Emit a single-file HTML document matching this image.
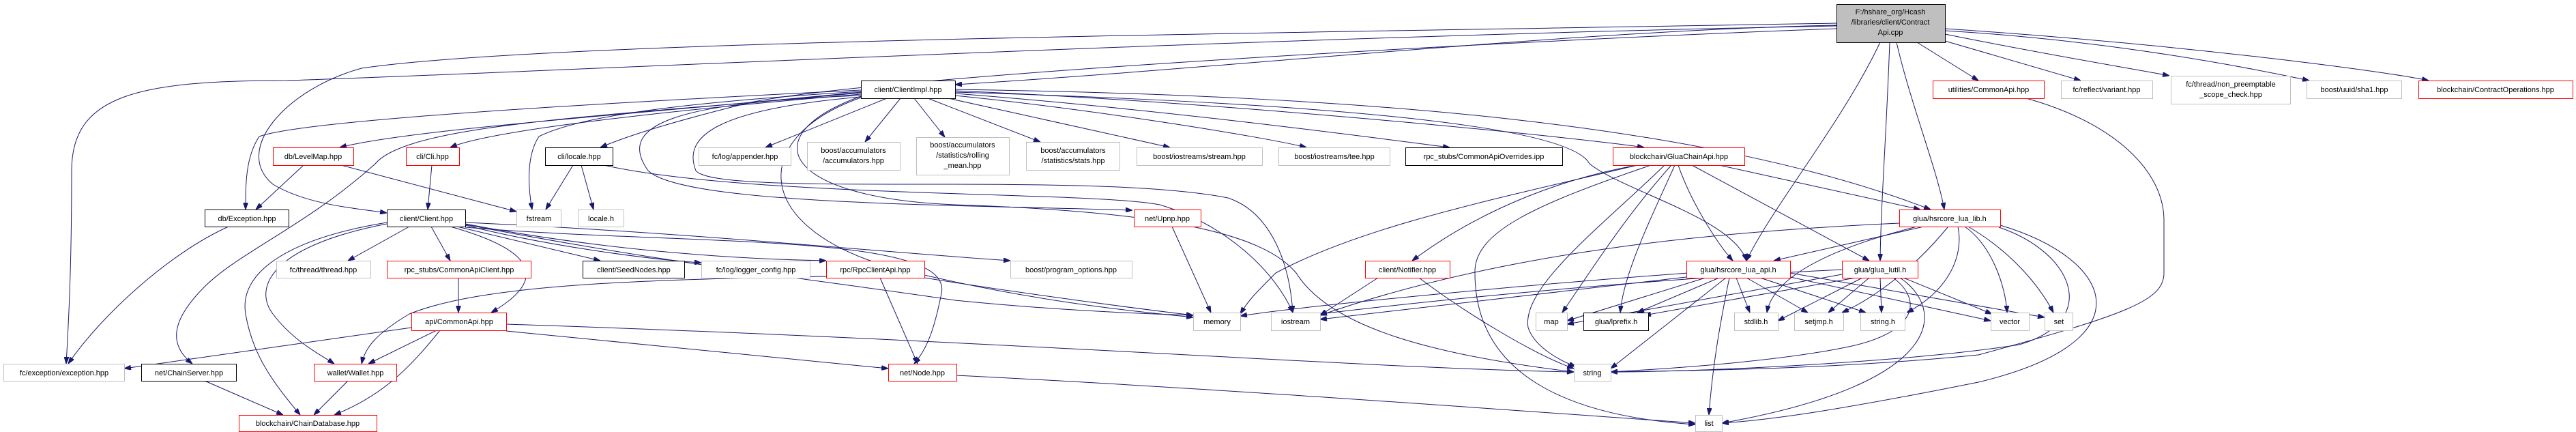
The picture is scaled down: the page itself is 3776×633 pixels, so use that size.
<!DOCTYPE html>
<html><head><meta charset="utf-8"><style>
html,body{margin:0;padding:0;background:#fff;}
svg{display:block;}
text{font-family:"Liberation Sans",Arial,sans-serif;font-size:11px;fill:#000;text-anchor:middle;}
.r{fill:#fff;stroke:#ff0000;stroke-width:1;}
.k{fill:#fff;stroke:#000;stroke-width:1;}
.g{fill:#fff;stroke:#bfbfbf;stroke-width:1;}
path.e{fill:none;stroke:#191970;stroke-width:1;marker-end:url(#a);}
</style></head><body>
<svg width="3776" height="633" viewBox="0 0 3776 633" xmlns="http://www.w3.org/2000/svg">
<defs><marker id="a" markerWidth="10" markerHeight="7" refX="10" refY="3.5" orient="auto" markerUnits="userSpaceOnUse"><path d="M0,0 L10,3.5 L0,7 z" fill="#191970" stroke="#191970"/></marker></defs>
<g>
<path class="e" d="M2692,37 C2300,45 1800,100 1400,124"/>
<path class="e" d="M2692,38 C1800,55 700,110 420,118 C200,118 105,140 105,250 C105,400 100,480 97,533"/>
<path class="e" d="M2692,34 C1800,50 800,60 530,100 C420,130 340,220 400,270 C450,300 520,305 567,312"/>
<path class="e" d="M2692,42 C2200,60 1300,110 1100,150 C1000,175 930,195 880,216"/>
<path class="e" d="M2756,62 C2700,180 2600,300 2560,382"/>
<path class="e" d="M2770,62 C2765,200 2757,300 2756,382"/>
<path class="e" d="M2780,62 C2800,150 2840,250 2850,307"/>
<path class="e" d="M2810,62 L2900,118"/>
<path class="e" d="M2851,60 L3050,118"/>
<path class="e" d="M2851,50 C3000,80 3150,105 3180,111"/>
<path class="e" d="M2851,45 C3100,60 3300,100 3385,118"/>
<path class="e" d="M2851,42 C3200,65 3500,105 3560,118"/>
<path class="e" d="M1262,135 C900,170 600,190 498,216"/>
<path class="e" d="M1262,138 C1000,160 720,190 660,216"/>
<path class="e" d="M1262,132 C900,150 450,175 380,200 C360,230 360,270 360,307"/>
<path class="e" d="M1262,134 C1000,150 850,170 790,200 C770,230 775,280 780,307"/>
<path class="e" d="M1300,144 L1122,216"/>
<path class="e" d="M1320,144 L1268,208"/>
<path class="e" d="M1340,144 L1385,201"/>
<path class="e" d="M1360,144 L1525,208"/>
<path class="e" d="M1390,144 L1715,216"/>
<path class="e" d="M1400,140 C1600,160 1850,200 1915,216"/>
<path class="e" d="M1400,137 C1700,160 2000,200 2125,216"/>
<path class="e" d="M1400,133 C1800,150 2300,200 2410,216"/>
<path class="e" d="M1400,131 C2000,140 2500,180 2830,307"/>
<path class="e" d="M1400,135 C1900,150 2300,180 2330,240 C2380,280 2540,320 2560,382"/>
<path class="e" d="M1262,140 C1000,150 900,180 950,250 C1000,300 1400,300 1660,308"/>
<path class="e" d="M1262,142 C1050,160 1000,200 1020,250 C1050,290 1600,250 1800,290 C1860,310 1890,380 1895,458"/>
<path class="e" d="M1262,143 C1100,200 1100,330 1300,390 C1500,440 1650,455 1749,465"/>
<path class="e" d="M1262,141 C1100,200 1150,290 1400,300 C1700,310 1850,340 1900,400 C1950,480 2100,520 2307,545"/>
<path class="e" d="M1262,136 C900,170 600,180 550,240 C450,330 350,370 300,420 C260,460 240,500 282,533"/>
<path class="e" d="M600,332 L510,382"/>
<path class="e" d="M632,332 L660,382"/>
<path class="e" d="M660,332 C760,360 820,400 720,458"/>
<path class="e" d="M670,332 L880,382"/>
<path class="e" d="M682,330 C800,360 950,380 1028,385"/>
<path class="e" d="M682,328 C900,370 1100,380 1211,382"/>
<path class="e" d="M682,326 C1000,340 1300,370 1481,382"/>
<path class="e" d="M567,328 C400,360 370,420 400,460 C430,500 470,520 490,533"/>
<path class="e" d="M567,326 C420,350 350,400 360,460 C370,520 400,560 440,608"/>
<path class="e" d="M682,333 C1000,360 1400,340 1380,430 C1370,480 1360,510 1340,533"/>
<path class="e" d="M682,329 C1000,390 1200,410 1400,440 C1550,455 1680,460 1749,462"/>
<path class="e" d="M672,407 L672,458"/>
<path class="e" d="M603,480 L182,540"/>
<path class="e" d="M640,484 L540,533"/>
<path class="e" d="M645,484 C600,540 560,580 490,608"/>
<path class="e" d="M742,485 L1302,540"/>
<path class="e" d="M742,475 C1500,500 2000,540 2307,545"/>
<path class="e" d="M510,558 L460,608"/>
<path class="e" d="M300,558 L415,608"/>
<path class="e" d="M335,332 C250,370 150,460 100,533"/>
<path class="e" d="M445,242 L375,307"/>
<path class="e" d="M500,242 L757,310"/>
<path class="e" d="M633,242 L627,307"/>
<path class="e" d="M840,242 L800,307"/>
<path class="e" d="M852,242 L870,307"/>
<path class="e" d="M885,242 C1100,290 1600,280 1700,300 C1800,330 1870,400 1895,458"/>
<path class="e" d="M1718,332 L1775,458"/>
<path class="e" d="M1290,407 L1345,533"/>
<path class="e" d="M1355,407 C1500,430 1650,450 1749,462"/>
<path class="e" d="M1211,405 C900,410 700,420 600,460 C550,490 535,510 530,533"/>
<path class="e" d="M1402,550 C1800,570 2200,600 2485,620"/>
<path class="e" d="M2020,407 L1935,462"/>
<path class="e" d="M2080,407 C2150,460 2250,520 2307,540"/>
<path class="e" d="M2970,144 C3100,180 3170,250 3172,320 L3172,400 C3172,440 3120,460 2900,520 C2700,540 2500,543 2361,545"/>
<path class="e" d="M2400,242 C2300,260 2180,300 2070,382"/>
<path class="e" d="M2400,242 C2200,290 2000,330 1870,400 C1840,430 1830,440 1818,460"/>
<path class="e" d="M2420,242 C2250,300 2160,340 2162,400 C2162,550 2300,610 2485,622"/>
<path class="e" d="M2450,242 C2380,320 2330,400 2290,458"/>
<path class="e" d="M2455,242 C2420,320 2380,400 2375,458"/>
<path class="e" d="M2440,242 C2350,330 2230,420 2240,480 C2250,510 2290,530 2310,537"/>
<path class="e" d="M2460,242 C2480,300 2520,360 2540,382"/>
<path class="e" d="M2480,242 L2740,382"/>
<path class="e" d="M2520,242 L2815,307"/>
<path class="e" d="M2820,332 L2600,382"/>
<path class="e" d="M2810,332 C2700,360 2600,400 2590,458"/>
<path class="e" d="M2855,333 C2800,400 2740,440 2700,458"/>
<path class="e" d="M2870,332 C2880,380 2850,430 2795,458"/>
<path class="e" d="M2880,332 C2920,360 2940,420 2942,458"/>
<path class="e" d="M2885,332 C2950,370 2990,420 3010,458"/>
<path class="e" d="M2930,333 C3040,370 3080,470 2960,505 C2800,530 2500,545 2361,545"/>
<path class="e" d="M2932,330 C3100,380 3150,500 2900,560 C2700,600 2600,615 2524,620"/>
<path class="e" d="M2784,327 C2500,340 2200,370 1935,462"/>
<path class="e" d="M2475,400 C2200,420 1900,450 1818,463"/>
<path class="e" d="M2480,405 L1935,468"/>
<path class="e" d="M2500,407 L2297,470"/>
<path class="e" d="M2520,407 L2400,458"/>
<path class="e" d="M2545,407 L2565,458"/>
<path class="e" d="M2560,407 L2650,458"/>
<path class="e" d="M2580,407 L2735,458"/>
<path class="e" d="M2620,405 L2918,470"/>
<path class="e" d="M2624,400 L2997,465"/>
<path class="e" d="M2530,407 L2361,540"/>
<path class="e" d="M2535,407 C2520,480 2510,540 2505,608"/>
<path class="e" d="M2700,395 C2400,410 2100,440 1935,460"/>
<path class="e" d="M2700,402 L2297,475"/>
<path class="e" d="M2720,407 L2410,462"/>
<path class="e" d="M2730,407 L2606,470"/>
<path class="e" d="M2740,407 L2680,458"/>
<path class="e" d="M2756,407 L2758,458"/>
<path class="e" d="M2790,407 L2920,460"/>
<path class="e" d="M2775,407 C2820,440 2810,490 2700,510 C2600,530 2450,540 2361,545"/>
<path class="e" d="M2785,407 C2850,450 2860,560 2524,620"/>
</g>
<g>
<rect x="2692.5" y="6.5" width="159" height="56" fill="#bfbfbf" stroke="#000"/>
<text x="2771" y="21">F:/hshare_org/Hcash</text><text x="2771" y="36">/libraries/client/Contract</text><text x="2771" y="51">Api.cpp</text>
<rect class="k" x="1262.5" y="118.5" width="138" height="26"/><text x="1331" y="135">client/ClientImpl.hpp</text>
<rect class="r" x="2833.5" y="118.5" width="163" height="26"/><text x="2915" y="135">utilities/CommonApi.hpp</text>
<rect class="g" x="3021.5" y="118.5" width="134" height="26"/><text x="3088" y="135">fc/reflect/variant.hpp</text>
<rect class="g" x="3182.5" y="111.5" width="175" height="41"/><text x="3270" y="127">fc/thread/non_preemptable</text><text x="3270" y="142">_scope_check.hpp</text>
<rect class="g" x="3381.5" y="118.5" width="139" height="26"/><text x="3451" y="135">boost/uuid/sha1.hpp</text>
<rect class="r" x="3545.5" y="118.5" width="226" height="26"/><text x="3658" y="135">blockchain/ContractOperations.hpp</text>
<rect class="r" x="400.5" y="216.5" width="118" height="26"/><text x="459" y="233">db/LevelMap.hpp</text>
<rect class="r" x="595.5" y="216.5" width="78" height="26"/><text x="634" y="233">cli/Cli.hpp</text>
<rect class="k" x="799.5" y="216.5" width="99" height="26"/><text x="849" y="233">cli/locale.hpp</text>
<rect class="g" x="1024.5" y="216.5" width="135" height="26"/><text x="1092" y="233">fc/log/appender.hpp</text>
<rect class="g" x="1183.5" y="208.5" width="136" height="41"/><text x="1251" y="224">boost/accumulators</text><text x="1251" y="239">/accumulators.hpp</text>
<rect class="g" x="1343.5" y="201.5" width="136" height="55"/><text x="1411" y="216">boost/accumulators</text><text x="1411" y="231">/statistics/rolling</text><text x="1411" y="246">_mean.hpp</text>
<rect class="g" x="1504.5" y="208.5" width="137" height="41"/><text x="1573" y="224">boost/accumulators</text><text x="1573" y="239">/statistics/stats.hpp</text>
<rect class="g" x="1666.5" y="216.5" width="184" height="26"/><text x="1758" y="233">boost/iostreams/stream.hpp</text>
<rect class="g" x="1874.5" y="216.5" width="163" height="26"/><text x="1956" y="233">boost/iostreams/tee.hpp</text>
<rect class="k" x="2060.5" y="216.5" width="230" height="26"/><text x="2175" y="233">rpc_stubs/CommonApiOverrides.ipp</text>
<rect class="r" x="2364.5" y="216.5" width="193" height="26"/><text x="2461" y="233">blockchain/GluaChainApi.hpp</text>
<rect class="r" x="2784.5" y="307.5" width="148" height="25"/><text x="2858" y="324">glua/hsrcore_lua_lib.h</text>
<rect class="k" x="300.5" y="307.5" width="123" height="25"/><text x="362" y="324">db/Exception.hpp</text>
<rect class="k" x="567.5" y="307.5" width="115" height="25"/><text x="625" y="324">client/Client.hpp</text>
<rect class="g" x="757.5" y="307.5" width="65" height="25"/><text x="790" y="324">fstream</text>
<rect class="g" x="847.5" y="307.5" width="67" height="25"/><text x="881" y="324">locale.h</text>
<rect class="r" x="1662.5" y="307.5" width="98" height="25"/><text x="1711" y="324">net/Upnp.hpp</text>
<rect class="g" x="405.5" y="382.5" width="138" height="25"/><text x="474" y="399">fc/thread/thread.hpp</text>
<rect class="r" x="567.5" y="382.5" width="211" height="25"/><text x="673" y="399">rpc_stubs/CommonApiClient.hpp</text>
<rect class="k" x="854.5" y="382.5" width="149" height="25"/><text x="929" y="399">client/SeedNodes.hpp</text>
<rect class="g" x="1028.5" y="382.5" width="159" height="25"/><text x="1108" y="399">fc/log/logger_config.hpp</text>
<rect class="r" x="1211.5" y="382.5" width="144" height="25"/><text x="1283" y="399">rpc/RpcClientApi.hpp</text>
<rect class="g" x="1481.5" y="382.5" width="178" height="25"/><text x="1570" y="399">boost/program_options.hpp</text>
<rect class="r" x="2001.5" y="382.5" width="124" height="25"/><text x="2063" y="399">client/Notifier.hpp</text>
<rect class="r" x="2472.5" y="382.5" width="152" height="25"/><text x="2548" y="399">glua/hsrcore_lua_api.h</text>
<rect class="r" x="2700.5" y="382.5" width="111" height="25"/><text x="2756" y="399">glua/glua_lutil.h</text>
<rect class="r" x="603.5" y="458.5" width="139" height="26"/><text x="673" y="475">api/CommonApi.hpp</text>
<rect class="g" x="1749.5" y="458.5" width="69" height="26"/><text x="1784" y="475">memory</text>
<rect class="g" x="1863.5" y="458.5" width="72" height="26"/><text x="1899" y="475">iostream</text>
<rect class="g" x="2251.5" y="458.5" width="46" height="26"/><text x="2274" y="475">map</text>
<rect class="k" x="2321.5" y="458.5" width="95" height="26"/><text x="2369" y="475">glua/lprefix.h</text>
<rect class="g" x="2542.5" y="458.5" width="64" height="26"/><text x="2574" y="475">stdlib.h</text>
<rect class="g" x="2630.5" y="458.5" width="72" height="26"/><text x="2666" y="475">setjmp.h</text>
<rect class="g" x="2727.5" y="458.5" width="65" height="26"/><text x="2760" y="475">string.h</text>
<rect class="g" x="2918.5" y="458.5" width="56" height="26"/><text x="2946" y="475">vector</text>
<rect class="g" x="2997.5" y="458.5" width="41" height="26"/><text x="3018" y="475">set</text>
<rect class="g" x="5.5" y="533.5" width="177" height="25"/><text x="94" y="550">fc/exception/exception.hpp</text>
<rect class="k" x="207.5" y="533.5" width="139" height="25"/><text x="277" y="550">net/ChainServer.hpp</text>
<rect class="r" x="460.5" y="533.5" width="121" height="25"/><text x="521" y="550">wallet/Wallet.hpp</text>
<rect class="r" x="1302.5" y="533.5" width="100" height="25"/><text x="1352" y="550">net/Node.hpp</text>
<rect class="g" x="2307.5" y="533.5" width="54" height="25"/><text x="2334" y="550">string</text>
<rect class="r" x="350.5" y="608.5" width="202" height="24"/><text x="451" y="624">blockchain/ChainDatabase.hpp</text>
<rect class="g" x="2485.5" y="608.5" width="39" height="24"/><text x="2505" y="624">list</text>
</g>
</svg>
</body></html>
